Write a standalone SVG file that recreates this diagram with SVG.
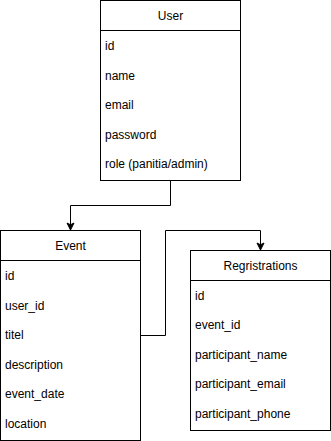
<svg xmlns="http://www.w3.org/2000/svg" width="331" height="441" viewBox="0 0 331 441">
  <defs>
    <style>
      .box { fill: #ffffff; stroke: #000000; stroke-width: 1; }
      .sep { stroke: #000000; stroke-width: 1; }
      .wire { fill: none; stroke: #000000; stroke-width: 1; }
      .title { font-family: "Liberation Sans", Arial, sans-serif; font-size: 12px; fill: #000000; text-anchor: middle; }
      .field { font-family: "Liberation Sans", Arial, sans-serif; font-size: 12px; fill: #000000; }
    </style>
    <marker id="arrow" markerUnits="userSpaceOnUse" markerWidth="10" markerHeight="10" viewBox="0 0 10 10" refX="9" refY="5" orient="auto">
      <path d="M2,1.5 L9,5 L2,8.5 L3.75,5 Z" fill="#000000" stroke="#000000" stroke-width="1"/>
    </marker>
  </defs>
  <rect width="331" height="441" fill="#ffffff"/>

  <g id="connectors">
    <path class="wire" d="M170.5,180.5 V205.5 H70.5 V230" marker-end="url(#arrow)"/>
    <path class="wire" d="M140.5,335.5 H165.5 V230.5 H260.5 V250" marker-end="url(#arrow)"/>
  </g>

  <g id="user">
    <rect class="box" x="100.5" y="0.5" width="140" height="180"/>
    <line class="sep" x1="100.5" y1="30.5" x2="240.5" y2="30.5"/>
    <text class="title" x="170.5" y="19.5">User</text>
    <text class="field" x="105" y="49.5">id</text>
    <text class="field" x="105" y="79.5">name</text>
    <text class="field" x="105" y="108.5">email</text>
    <text class="field" x="105" y="138.5">password</text>
    <text class="field" x="105" y="167.5">role (panitia/admin)</text>
  </g>

  <g id="event">
    <rect class="box" x="0.5" y="230.5" width="140" height="210"/>
    <line class="sep" x1="0.5" y1="260.5" x2="140.5" y2="260.5"/>
    <text class="title" x="70.5" y="249.5">Event</text>
    <text class="field" x="5" y="279.5">id</text>
    <text class="field" x="5" y="309.5">user_id</text>
    <text class="field" x="5" y="338.5">titel</text>
    <text class="field" x="5" y="368.5">description</text>
    <text class="field" x="5" y="397.5">event_date</text>
    <text class="field" x="5" y="427.5">location</text>
  </g>

  <g id="registrations">
    <rect class="box" x="190.5" y="250.5" width="140" height="180"/>
    <line class="sep" x1="190.5" y1="280.5" x2="330.5" y2="280.5"/>
    <text class="title" x="260.5" y="269.5">Regristrations</text>
    <text class="field" x="195" y="299.5">id</text>
    <text class="field" x="195" y="328.5">event_id</text>
    <text class="field" x="195" y="358.5">participant_name</text>
    <text class="field" x="195" y="387.5">participant_email</text>
    <text class="field" x="195" y="417.5">participant_phone</text>
  </g>
</svg>
